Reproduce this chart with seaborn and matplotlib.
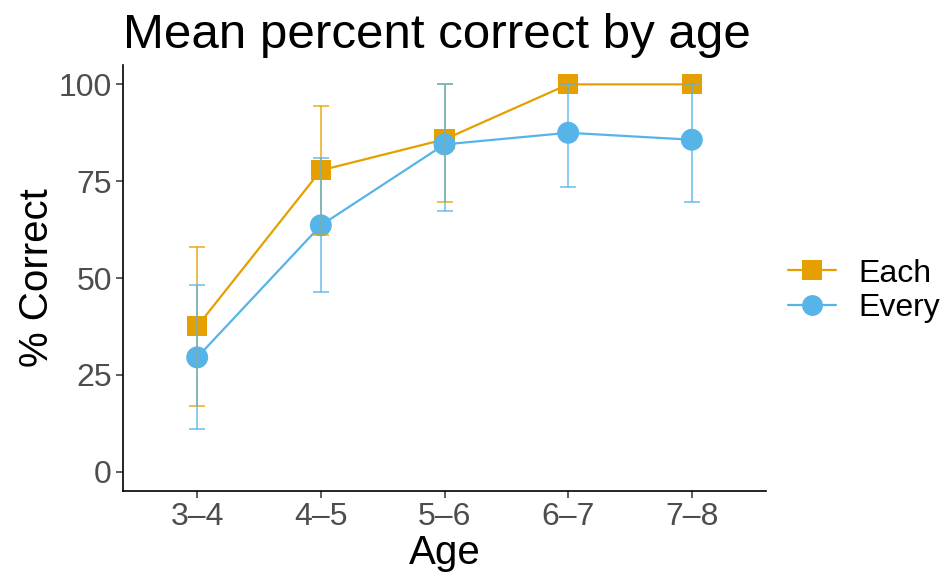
import matplotlib
matplotlib.use("Agg")
import matplotlib.pyplot as plt
import seaborn as sns
import pandas as pd
import numpy as np
from matplotlib.lines import Line2D

ages = ["3\u20134", "4\u20135", "5\u20136", "6\u20137", "7\u20138"]
each_mean = [37.5, 77.8, 85.8, 100.0, 100.0]
each_lo = [17.0, 61.1, 69.7, 100.0, 100.0]
each_hi = [58.1, 94.3, 100.0, 100.0, 100.0]
every_mean = [29.5, 63.6, 84.5, 87.5, 85.7]
every_lo = [10.9, 46.3, 67.4, 73.4, 69.7]
every_hi = [48.1, 80.9, 100.0, 100.0, 100.0]
yticks = [0, 25, 50, 75, 100]

colors = {"Each": "#E69F00", "Every": "#56B4E9"}
markers = {"Each": "s", "Every": "o"}

df = pd.DataFrame({
    "Age": ages * 2,
    "pct": each_mean + every_mean,
    "lo": each_lo + every_lo,
    "hi": each_hi + every_hi,
    "Quantifier": ["Each"] * len(ages) + ["Every"] * len(ages),
})

sns.set_style("white")
plt.rcParams["font.family"] = ["Liberation Sans", "DejaVu Sans"]
plt.rcParams["text.color"] = "black"
plt.rcParams["axes.labelcolor"] = "black"

fig = plt.figure(figsize=(9.43, 5.77), dpi=100)
ax = fig.add_axes([123/943, 1-491/577, (766-123)/943, (491-65)/577])

xpos = {a: i for i, a in enumerate(ages)}
df["x"] = df["Age"].map(xpos)

sns.lineplot(data=df, x="x", y="pct", hue="Quantifier", palette=colors,
             ax=ax, linewidth=1.6, legend=False, sort=False, zorder=2)
for q, sub in df.groupby("Quantifier"):
    ax.scatter(sub["x"], sub["pct"], marker=markers[q], s=250 if q == "Every" else 210,
               color=colors[q], edgecolors="none", zorder=3)
for q, sub in df.groupby("Quantifier"):
    ax.errorbar(sub["x"], sub["pct"],
                yerr=[sub["pct"] - sub["lo"], sub["hi"] - sub["pct"]],
                fmt="none", ecolor=colors[q], elinewidth=1.3, capsize=6,
                capthick=1.3, alpha=0.75, zorder=4)

ax.set_xlim(-0.6, 4.6)
ax.set_ylim(-5, 105)
ax.set_xticks(range(len(ages)))
ax.set_xticklabels(ages)
ax.set_yticks(yticks)
ax.set_yticklabels([str(t) for t in yticks])
ax.tick_params(axis="both", labelsize=23, labelcolor="#4D4D4D", color="#333333",
               length=5, width=1.1, direction="out", left=True, bottom=True, pad=3)
for s in ["top", "right"]:
    ax.spines[s].set_visible(False)
for s in ["left", "bottom"]:
    ax.spines[s].set_color("black")
    ax.spines[s].set_linewidth(1.2)
ax.grid(False)
ax.set_xlabel("Age", fontsize=29, labelpad=1, color="black")
ax.set_ylabel("% Correct", fontsize=29, labelpad=2, color="black")
ax.set_title("Mean percent correct by age", fontsize=35.5, loc="left", pad=12, color="black")

handles = [Line2D([0], [0], color=colors[q], marker=markers[q], markersize=15 if q == "Every" else 14,
                  linewidth=1.6, markeredgewidth=0, label=q) for q in ["Each", "Every"]]
fig.legend(handles=handles, loc="center left", bbox_to_anchor=(766/943, 1-291/577),
           frameon=False, fontsize=23, handlelength=1.5, handletextpad=0.7,
           labelspacing=0.15, borderpad=0.2)

fig.savefig("out.png", dpi=100)
